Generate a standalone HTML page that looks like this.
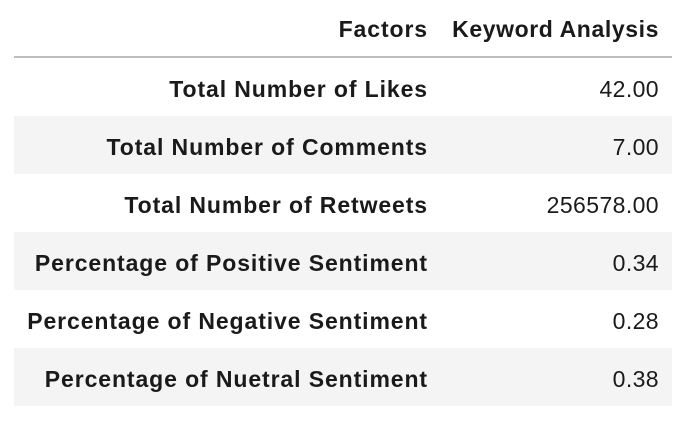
<!DOCTYPE html>
<html><head><meta charset="utf-8"><style>
body{margin:0;width:690px;height:428px;background:#fff;font-family:"Liberation Sans",sans-serif;color:#1a1a1a;position:relative;overflow:hidden}
.row{position:absolute;left:14px;width:658px;height:58px}
.c1,.c2{position:absolute;top:2px;height:58px;line-height:58px;text-align:right;white-space:nowrap;font-size:23px}
.c1{right:244px;font-weight:bold;letter-spacing:0.9px}
.c2{right:13px;letter-spacing:0.4px}
.sh{background:#f4f4f4}
</style></head><body>
<div class="row" style="top:0;height:56px">
<div class="c1" style="top:0">Factors</div>
<div class="c2" style="top:0;font-weight:bold;letter-spacing:0.6px">Keyword Analysis</div>
</div>
<div style="position:absolute;left:14px;width:658px;top:56px;height:2px;background:#bdbdbd"></div>
<div class="row" style="top:58px"><div class="c1">Total Number of Likes</div><div class="c2">42.00</div></div>
<div class="row sh" style="top:116px"><div class="c1">Total Number of Comments</div><div class="c2">7.00</div></div>
<div class="row" style="top:174px"><div class="c1">Total Number of Retweets</div><div class="c2">256578.00</div></div>
<div class="row sh" style="top:232px"><div class="c1">Percentage of Positive Sentiment</div><div class="c2">0.34</div></div>
<div class="row" style="top:290px"><div class="c1">Percentage of Negative Sentiment</div><div class="c2">0.28</div></div>
<div class="row sh" style="top:348px"><div class="c1">Percentage of Nuetral Sentiment</div><div class="c2">0.38</div></div>
</body></html>
